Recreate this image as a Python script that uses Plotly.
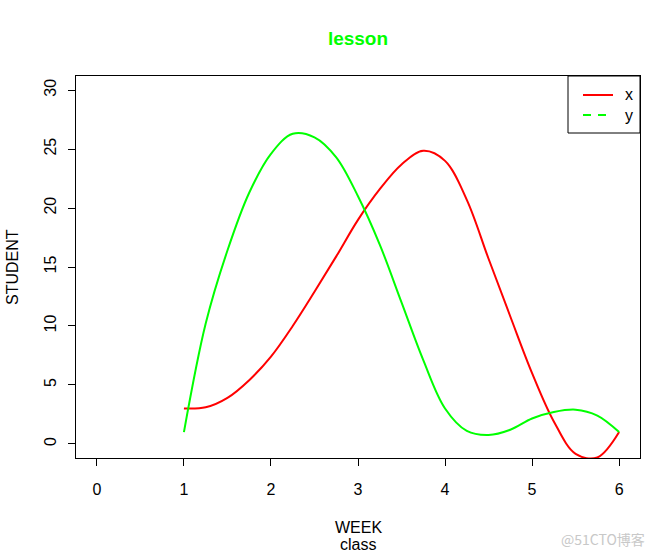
import plotly.graph_objects as go

# values (x from 1 to 6 in steps of 0.25)
week = [1.0, 1.25, 1.5, 1.75, 2.0, 2.25, 2.5, 2.75, 3.0, 3.25, 3.5,
        3.75, 4.0, 4.25, 4.5, 4.75, 5.0, 5.25, 5.5, 5.75, 6.0]
series_x = [3.0, 3.1, 3.9, 5.4, 7.4, 10.0, 12.9, 15.9, 19.0, 21.6, 23.7,
            24.85, 24.0, 20.7, 15.7, 10.8, 6.0, 1.9, -0.85, -1.15, 1.0]
series_y = [1.0, 10.2, 16.4, 21.3, 24.6, 26.3, 26.0, 24.3, 21.0, 16.9, 12.0,
            7.1, 3.0, 1.1, 0.76, 1.2, 2.15, 2.7, 2.9, 2.4, 1.0]

legend_names = ["x", "y"]
x_ticks = [0, 1, 2, 3, 4, 5, 6]
y_ticks = [0, 5, 10, 15, 20, 25, 30]

RED = "#FF0000"
GREEN = "#00FF00"
FONT = "Liberation Sans, Arial, sans-serif"

# plot-area geometry in pixels (for placing paper-referenced decorations)
W, H = 658, 553
L, R, T, B = 76, 18, 76, 95
PW, PH = W - L - R, H - T - B


def px(xp):
    return (xp - L) / PW


def py(yp):
    return (H - B - yp) / PH


fig = go.Figure()
fig.add_trace(go.Scatter(x=week, y=series_x, mode="lines", name=legend_names[0],
                         showlegend=False,
                         line=dict(color=RED, width=2, shape="spline", smoothing=1)))
fig.add_trace(go.Scatter(x=week, y=series_y, mode="lines", name=legend_names[1],
                         showlegend=False,
                         line=dict(color=GREEN, width=2, shape="spline", smoothing=1)))

axis_common = dict(showline=True, mirror=True, linecolor="black", linewidth=1,
                   ticks="outside", ticklen=7, tickwidth=1, tickcolor="black",
                   showgrid=False, zeroline=False,
                   tickfont=dict(family=FONT, size=16, color="black"))

fig.update_layout(
    width=W, height=H,
    margin=dict(l=L, r=R, t=T, b=B),
    paper_bgcolor="white", plot_bgcolor="white",
    font=dict(family=FONT, size=16, color="black"),
    title=dict(text="<b>lesson</b>", x=0.5, xref="paper", xanchor="center",
               y=1 - 38 / H, yanchor="middle",
               font=dict(family=FONT, size=19, color=GREEN)),
    xaxis=dict(range=[-0.24, 6.24], tickvals=x_ticks, ticklabelstandoff=10, **axis_common),
    yaxis=dict(range=[-1.2, 31.2], tickvals=y_ticks, tickangle=-90, ticklabelstandoff=6,
               **axis_common),
    showlegend=False,
)

# legend box (drawn like R's legend())
fig.add_shape(type="rect", xref="paper", yref="paper",
              x0=px(568), x1=px(640), y0=py(133), y1=py(76),
              line=dict(color="black", width=1), fillcolor="white", layer="above")
fig.add_shape(type="line", xref="paper", yref="paper",
              x0=px(583), x1=px(613), y0=py(95), y1=py(95),
              line=dict(color=RED, width=2), layer="above")
fig.add_shape(type="line", xref="paper", yref="paper",
              x0=px(583), x1=px(613), y0=py(115), y1=py(115),
              line=dict(color=GREEN, width=2, dash="8px,7px"), layer="above")
for name, yy in zip(legend_names, [95, 115]):
    fig.add_annotation(text=name, xref="paper", yref="paper", x=px(623), y=py(yy),
                       xanchor="left", yanchor="middle", showarrow=False,
                       font=dict(family=FONT, size=16, color="black"))

fig.add_annotation(text="STUDENT", xref="paper", yref="paper", x=px(12),
                   y=0.5, xanchor="center", yanchor="middle", textangle=-90,
                   showarrow=False, font=dict(family=FONT, size=16, color="black"))
fig.add_annotation(text="WEEK", xref="paper", yref="paper", x=0.5,
                   y=py(527), xanchor="center", yanchor="middle",
                   showarrow=False, font=dict(family=FONT, size=16, color="black"))
fig.add_annotation(text="class", xref="paper", yref="paper", x=0.5,
                   y=py(544), xanchor="center", yanchor="middle",
                   showarrow=False, font=dict(family=FONT, size=16, color="black"))
fig.add_annotation(text="@51CTO博客", xref="paper", yref="paper", x=px(603),
                   y=py(539), xanchor="center", yanchor="middle",
                   showarrow=False,
                   font=dict(family="Noto Sans CJK SC, sans-serif", size=14, color="#C8C8C8"))

fig.write_html("out.html")
